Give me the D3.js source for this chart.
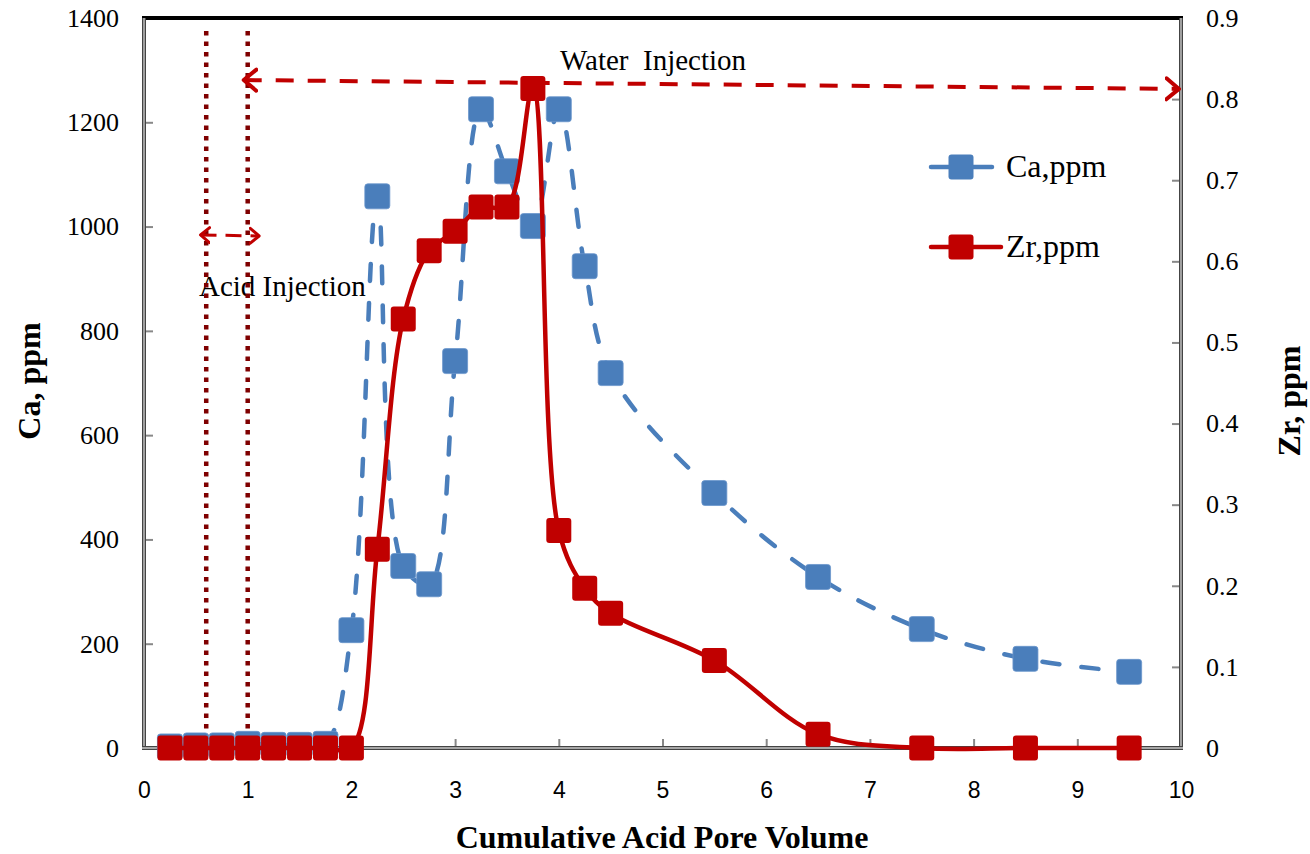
<!DOCTYPE html>
<html>
<head>
<meta charset="utf-8">
<script src="https://cdn.jsdelivr.net/npm/d3@7"></script>
<style>
  html, body { margin: 0; padding: 0; background: #fff; }
  svg { display: block; }
</style>
</head>
<body>
<svg id="chart" width="1310" height="854"></svg>
<script>
// Cumulative acid pore volume at each sample
const poreVolume = [0.25, 0.5, 0.75, 1.0, 1.25, 1.5, 1.75, 2.0, 2.25, 2.5, 2.75, 3.0,
                    3.25, 3.5, 3.75, 4.0, 4.25, 4.5, 5.5, 6.5, 7.5, 8.5, 9.5];
// Calcium in effluent, ppm (left axis)
const caPpm = [3, 5, 5, 8, 6, 6, 8, 226, 1058, 349, 314, 742,
               1225, 1106, 1001, 1225, 924, 719, 489, 328, 228, 171, 146];
// Zirconium in effluent, ppm (right axis)
const zrPpm = [0, 0, 0, 0, 0, 0, 0, 0, 0.245, 0.529, 0.613, 0.637,
               0.667, 0.667, 0.813, 0.268, 0.197, 0.166, 0.108, 0.017, 0, 0, 0];

const xTicks = [0, 1, 2, 3, 4, 5, 6, 7, 8, 9, 10];
const caTicks = [0, 200, 400, 600, 800, 1000, 1200, 1400];
const zrTicks = [0, 0.1, 0.2, 0.3, 0.4, 0.5, 0.6, 0.7, 0.8, 0.9];

// Injection stage boundaries (pore volumes)
const acidStart = 0.6;
const waterStart = 1.0;

const svg = d3.select("#chart");
const serif = "'Liberation Serif', 'Times New Roman', serif";
const sans = "'Liberation Sans', Arial, sans-serif";
const blue = "#4A7EBB";
const red = "#C00000";
const darkRed = "#7F0000";

const x = d3.scaleLinear().domain([0, 10]).range([144, 1181]);
const yCa = d3.scaleLinear().domain([0, 1400]).range([748, 18]);
const yZr = d3.scaleLinear().domain([0, 0.9]).range([748, 18]);

// ---- axes (ticks point inward) ----
const axL = svg.append("g").attr("transform", `translate(${x(0)},0)`)
  .call(d3.axisLeft(yCa).tickValues(caTicks).tickSizeInner(-9).tickSizeOuter(0).tickPadding(25).tickFormat(d3.format("d")));
axL.selectAll("text").style("font-family", serif).style("font-size", "26px").attr("fill", "#000");

const axR = svg.append("g").attr("transform", `translate(${x(10)},0)`)
  .call(d3.axisRight(yZr).tickValues(zrTicks).tickSizeInner(-9).tickSizeOuter(0).tickPadding(25)
        .tickFormat(d => d === 0 ? "0" : d3.format(".1f")(d)));
axR.selectAll("text").style("font-family", serif).style("font-size", "26px").attr("fill", "#000");

const axB = svg.append("g").attr("transform", `translate(0,${yCa(0)})`)
  .call(d3.axisBottom(x).tickValues(xTicks).tickSizeInner(-9).tickSizeOuter(0).tickPadding(34).tickFormat(d3.format("d")));
axB.selectAll("text").style("font-family", sans).style("font-size", "23px").attr("fill", "#000");

[axL, axR, axB].forEach(a => {
  a.select(".domain").remove();
  a.selectAll(".tick line").attr("stroke", "#888").attr("stroke-width", 2);
});

// frame: double grey axis lines, black top edge
const frame = svg.append("g");
const x0 = x(0), x1 = x(10), yb = yCa(0), yt = yCa(1400);
frame.append("line").attr("x1", x0 - 2).attr("x2", x1 + 2).attr("y1", yt).attr("y2", yt)
  .attr("stroke", "#000").attr("stroke-width", 4);
const sides = [[x0, yt, x0, yb + 2], [x1, yt, x1, yb + 2], [x0 - 2, yb, x1 + 2, yb]];
sides.forEach(([a, b, c, d]) => {
  frame.append("line").attr("x1", a).attr("y1", b).attr("x2", c).attr("y2", d)
    .attr("stroke", "#444").attr("stroke-width", 4);
  frame.append("line").attr("x1", a).attr("y1", b).attr("x2", c).attr("y2", d)
    .attr("stroke", "#c8c8c8").attr("stroke-width", 1.4);
});

// ---- annotations ----
const defs = svg.append("defs");
function chevron(id, size, sw) {
  defs.append("marker").attr("id", id)
    .attr("viewBox", `${-size} ${-size} ${size * 2} ${size * 2}`)
    .attr("markerUnits", "userSpaceOnUse")
    .attr("markerWidth", size * 2).attr("markerHeight", size * 2)
    .attr("orient", "auto-start-reverse")
    .append("path")
    .attr("d", `M${-size * 0.9},${-size * 0.75} L0,0 L${-size * 0.9},${size * 0.75}`)
    .attr("fill", "none").attr("stroke", red).attr("stroke-width", sw)
    .attr("stroke-linecap", "round").attr("stroke-linejoin", "round");
}
chevron("arrowBig", 14, 4);
chevron("arrowSmall", 10, 3);

svg.append("text").attr("x", 199).attr("y", 296)
  .style("font-family", serif).style("font-size", "29px").text("Acid Injection");
svg.append("text").attr("x", 560).attr("y", 70)
  .style("font-family", serif).style("font-size", "29px")
  .attr("xml:space", "preserve").style("white-space", "pre").text("Water  Injection");

// stage boundaries
[acidStart, waterStart].forEach(v => {
  svg.append("line").attr("x1", x(v)).attr("x2", x(v))
    .attr("y1", yCa(1375)).attr("y2", yCa(0))
    .attr("stroke", darkRed).attr("stroke-width", 4.5).attr("stroke-dasharray", "4.5,6");
});

// acid injection span arrow
svg.append("line")
  .attr("x1", x(0.545)).attr("y1", yCa(984)).attr("x2", x(1.11)).attr("y2", yCa(982))
  .attr("stroke", red).attr("stroke-width", 3).attr("stroke-dasharray", "16,9")
  .attr("marker-start", "url(#arrowSmall)").attr("marker-end", "url(#arrowSmall)");

// water injection span arrow
svg.append("line")
  .attr("x1", x(waterStart) - 4).attr("y1", yCa(1281)).attr("x2", x(10) - 2).attr("y2", yCa(1264))
  .attr("stroke", red).attr("stroke-width", 4).attr("stroke-dasharray", "18,14")
  .attr("marker-start", "url(#arrowBig)").attr("marker-end", "url(#arrowBig)");

// ---- series ----
const MS = 25;
const curve = d3.curveCatmullRom.alpha(0.5);
const caPts = poreVolume.map((v, i) => [v, caPpm[i]]);
const zrPts = poreVolume.map((v, i) => [v, zrPpm[i]]);

svg.append("path").datum(caPts)
  .attr("d", d3.line().x(d => x(d[0])).y(d => yCa(d[1])).curve(curve))
  .attr("fill", "none").attr("stroke", blue).attr("stroke-width", 4.5)
  .attr("stroke-dasharray", "17,22").attr("stroke-linecap", "round");
svg.append("g").selectAll("rect").data(caPts).join("rect")
  .attr("x", d => x(d[0]) - MS / 2).attr("y", d => yCa(d[1]) - MS / 2)
  .attr("width", MS).attr("height", MS).attr("rx", 3)
  .attr("fill", blue).attr("stroke", "#6a96cc").attr("stroke-width", 0.8);

svg.append("path").datum(zrPts)
  .attr("d", d3.line().x(d => x(d[0])).y(d => yZr(d[1])).curve(curve))
  .attr("fill", "none").attr("stroke", red).attr("stroke-width", 4.5);
svg.append("g").selectAll("rect").data(zrPts).join("rect")
  .attr("x", d => x(d[0]) - MS / 2).attr("y", d => yZr(d[1]) - MS / 2)
  .attr("width", MS).attr("height", MS).attr("rx", 3)
  .attr("fill", red);

// ---- legend ----
const legend = svg.append("g");
const legendRows = [
  { label: "Ca,ppm", color: blue, y: 167, x2: 992 },
  { label: "Zr,ppm", color: red, y: 247, x2: 1001 }
];
legendRows.forEach(r => {
  legend.append("line").attr("x1", 931).attr("x2", r.x2).attr("y1", r.y).attr("y2", r.y)
    .attr("stroke", r.color).attr("stroke-width", 4.5).attr("stroke-linecap", "round");
  legend.append("rect").attr("x", 961 - MS / 2).attr("y", r.y - MS / 2)
    .attr("width", MS).attr("height", MS).attr("rx", 3).attr("fill", r.color);
  legend.append("text").attr("x", 1006).attr("y", r.y + 10)
    .style("font-family", serif).style("font-size", "32px").text(r.label);
});

// ---- axis titles ----
svg.append("text").attr("transform", `translate(40,381) rotate(-90)`)
  .attr("text-anchor", "middle").style("font-family", serif).style("font-size", "32px")
  .style("font-weight", "bold").text("Ca, ppm");
svg.append("text").attr("transform", `translate(1300,401) rotate(-90)`)
  .attr("text-anchor", "middle").style("font-family", serif).style("font-size", "32px")
  .style("font-weight", "bold").text("Zr, ppm");
svg.append("text").attr("x", 662).attr("y", 848)
  .attr("text-anchor", "middle").style("font-family", serif).style("font-size", "32px")
  .style("font-weight", "bold").text("Cumulative Acid Pore Volume");
</script>
</body>
</html>
